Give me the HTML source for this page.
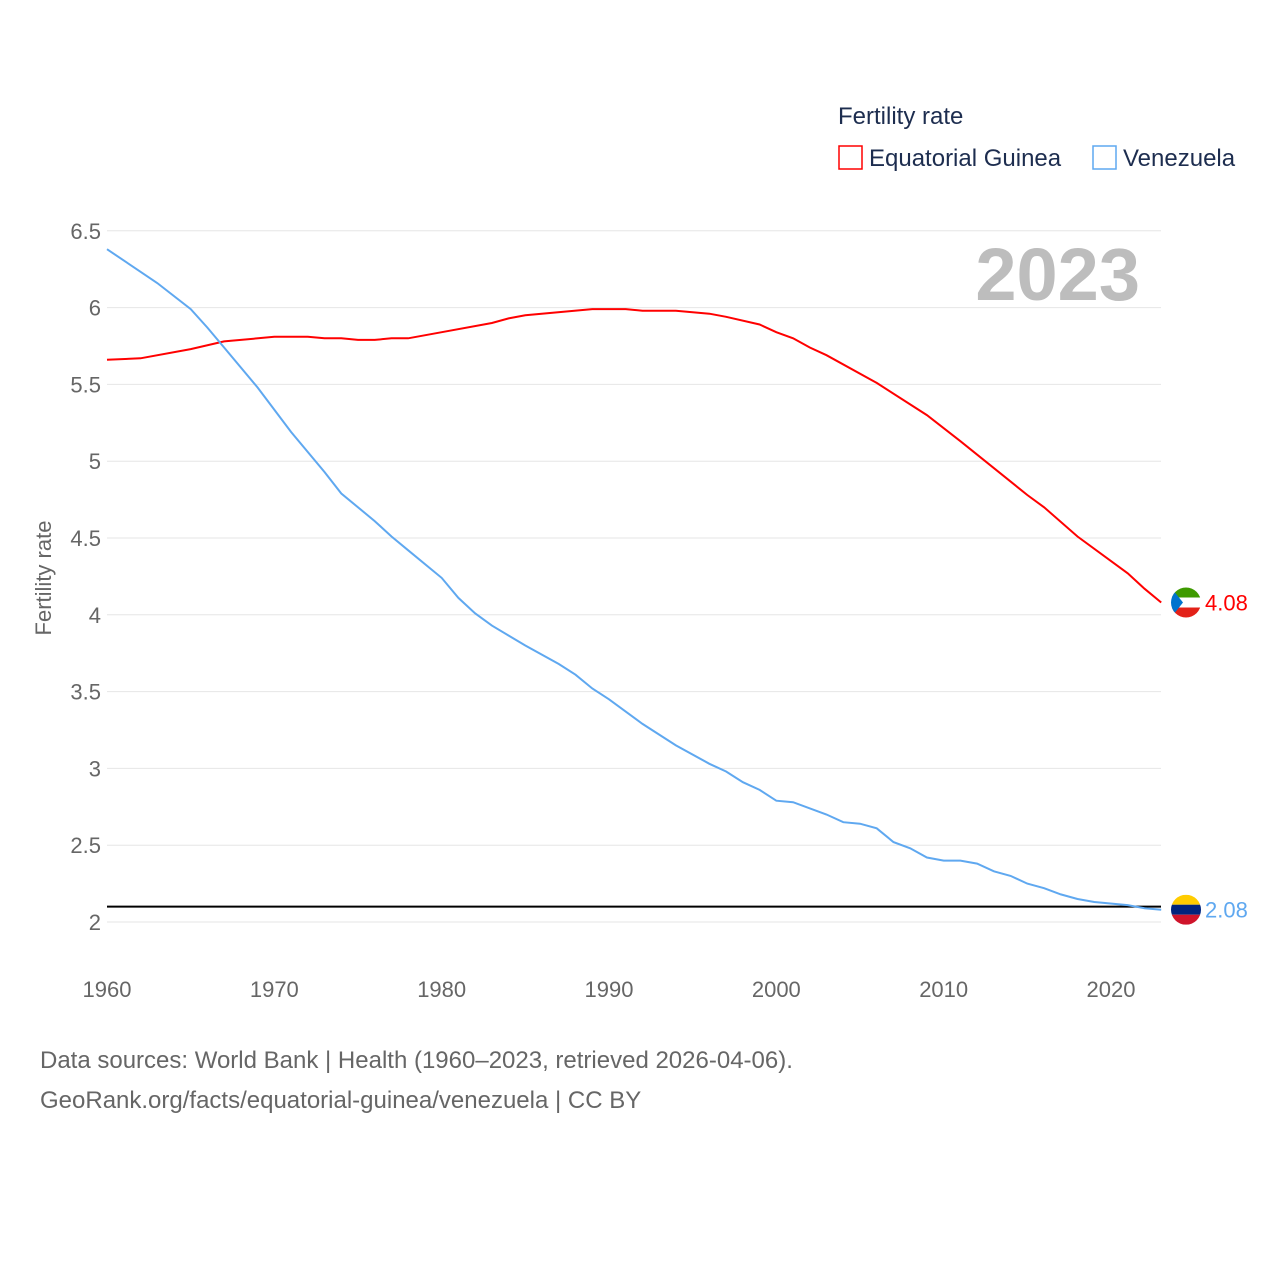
<!DOCTYPE html>
<html><head><meta charset="utf-8"><style>
html,body{margin:0;padding:0;background:#fff;}
body{width:1280px;height:1280px;position:relative;font-family:"Liberation Sans",sans-serif;overflow:hidden}
svg text{font-family:"Liberation Sans",sans-serif}
</style></head><body>
<svg id="chart" width="1280" height="1280" xmlns="http://www.w3.org/2000/svg">
<text x="838" y="124" font-size="24" fill="#1d2d4f">Fertility rate</text>
<g><rect x="839" y="146" width="23" height="23" fill="none" stroke="#ff0000" stroke-width="1.5"/><text x="869" y="166" font-size="24" fill="#1d2d4f">Equatorial Guinea</text></g>
<g><rect x="1093" y="146" width="23" height="23" fill="none" stroke="#5fa8f0" stroke-width="1.5"/><text x="1123" y="166" font-size="24" fill="#1d2d4f">Venezuela</text></g>
<text x="1140" y="300" font-size="74" font-weight="bold" fill="#bdbdbd" text-anchor="end">2023</text>
<g id="grid"></g><g id="series"></g>
<text transform="translate(51,578) rotate(-90)" font-size="22" fill="#666" text-anchor="middle">Fertility rate</text>
<text x="40" y="1068" font-size="24" fill="#666">Data sources: World Bank | Health (1960–2023, retrieved 2026-04-06).</text>
<text x="40" y="1108" font-size="24" fill="#666">GeoRank.org/facts/equatorial-guinea/venezuela | CC BY</text>
</svg>
<script>
const yTicks=[2,2.5,3,3.5,4,4.5,5,5.5,6,6.5];
const xTicks=[1960,1970,1980,1990,2000,2010,2020];
const gqYears=[1960,1962,1965,1967,1970,1972,1973,1974,1975,1976,1977,1978,1980,1983,1984,1985,1989,1991,1992,1994,1996,1997,1999,2000,2001,2002,2003,2006,2009,2011,2015,2016,2018,2021,2022,2023];
const gqValues=[5.66,5.67,5.73,5.78,5.81,5.81,5.80,5.80,5.79,5.79,5.80,5.80,5.84,5.90,5.93,5.95,5.99,5.99,5.98,5.98,5.96,5.94,5.89,5.84,5.80,5.74,5.69,5.51,5.30,5.13,4.78,4.70,4.51,4.27,4.17,4.08];
const veYears=[1960,1963,1965,1966,1967,1969,1971,1973,1974,1976,1977,1978,1980,1981,1982,1983,1985,1987,1988,1989,1990,1992,1994,1996,1997,1998,1999,2000,2001,2003,2004,2005,2006,2007,2008,2009,2010,2011,2012,2013,2014,2015,2016,2017,2018,2019,2021,2022,2023];
const veValues=[6.38,6.16,5.99,5.87,5.74,5.48,5.19,4.93,4.79,4.61,4.51,4.42,4.24,4.11,4.01,3.93,3.80,3.68,3.61,3.52,3.45,3.29,3.15,3.03,2.98,2.91,2.86,2.79,2.78,2.70,2.65,2.64,2.61,2.52,2.48,2.42,2.40,2.40,2.38,2.33,2.30,2.25,2.22,2.18,2.15,2.13,2.11,2.09,2.08];
const refValue=2.1;
const X=y=>107+(y-1960)*(1111-107)/60;
const Y=v=>922-(v-2)*153.6;
const NS="http://www.w3.org/2000/svg";
const grid=document.getElementById('grid'),ser=document.getElementById('series');
function mk(tag,attrs,parent){const e=document.createElementNS(NS,tag);for(const k in attrs)e.setAttribute(k,attrs[k]);parent.appendChild(e);return e;}
yTicks.forEach(t=>{
 const l=mk('line',{x1:107,x2:1161,y1:Y(t),y2:Y(t),stroke:'#e6e6e6','stroke-width':1},grid);
 
 
 const tx=mk('text',{x:101,y:Y(t)+8,'font-size':22,fill:'#666','text-anchor':'end'},grid);tx.textContent=String(t);
 
 
});
xTicks.forEach(t=>{
 const tx=mk('text',{x:X(t),y:997,'font-size':22,fill:'#666','text-anchor':'middle'},grid);tx.textContent=String(t);
 
 
});
const ref=mk('line',{x1:107,x2:1161,y1:Y(refValue),y2:Y(refValue),stroke:'#000','stroke-width':2},ser);


function line(years,vals,color,name){
 const d=years.map((y,i)=>(i?'L':'M')+X(y).toFixed(1)+','+Y(vals[i]).toFixed(1)).join(' ');
 const p=mk('path',{d:d,fill:'none',stroke:color,'stroke-width':2},ser);
 
 
}
line(gqYears,gqValues,'#ff0000','line-equatorial-guinea');
line(veYears,veValues,'#5fa8f0','line-venezuela');
function flag(v,cols,color,label,name){
 const cy=Y(v),cx=1186,g=mk('g',{},ser);
 
 
 const id='c'+name;const cp=mk('clipPath',{id:id},g);mk('circle',{cx:cx,cy:cy,r:15},cp);
 const gg=mk('g',{'clip-path':'url(#'+id+')'},g);
 cols.forEach((c,i)=>mk('rect',{x:cx-15,y:cy-15+i*10,width:30,height:10,fill:c},gg));
 if(name==='marker-equatorial-guinea')mk('polygon',{points:`${cx-15},${cy-15} ${cx-3},${cy} ${cx-15},${cy+15}`,fill:'#0073ce'},gg);
 const t=mk('text',{x:1205,y:cy+8,'font-size':22,fill:color},g);t.textContent=label;
}
flag(gqValues[gqValues.length-1],['#3e9a00','#ffffff','#e32118'],'#ff0000',gqValues[gqValues.length-1].toFixed(2),'marker-equatorial-guinea');
flag(veValues[veValues.length-1],['#ffcc00','#00247d','#cf142b'],'#5fa8f0',veValues[veValues.length-1].toFixed(2),'marker-venezuela');
</script>
</body></html>
